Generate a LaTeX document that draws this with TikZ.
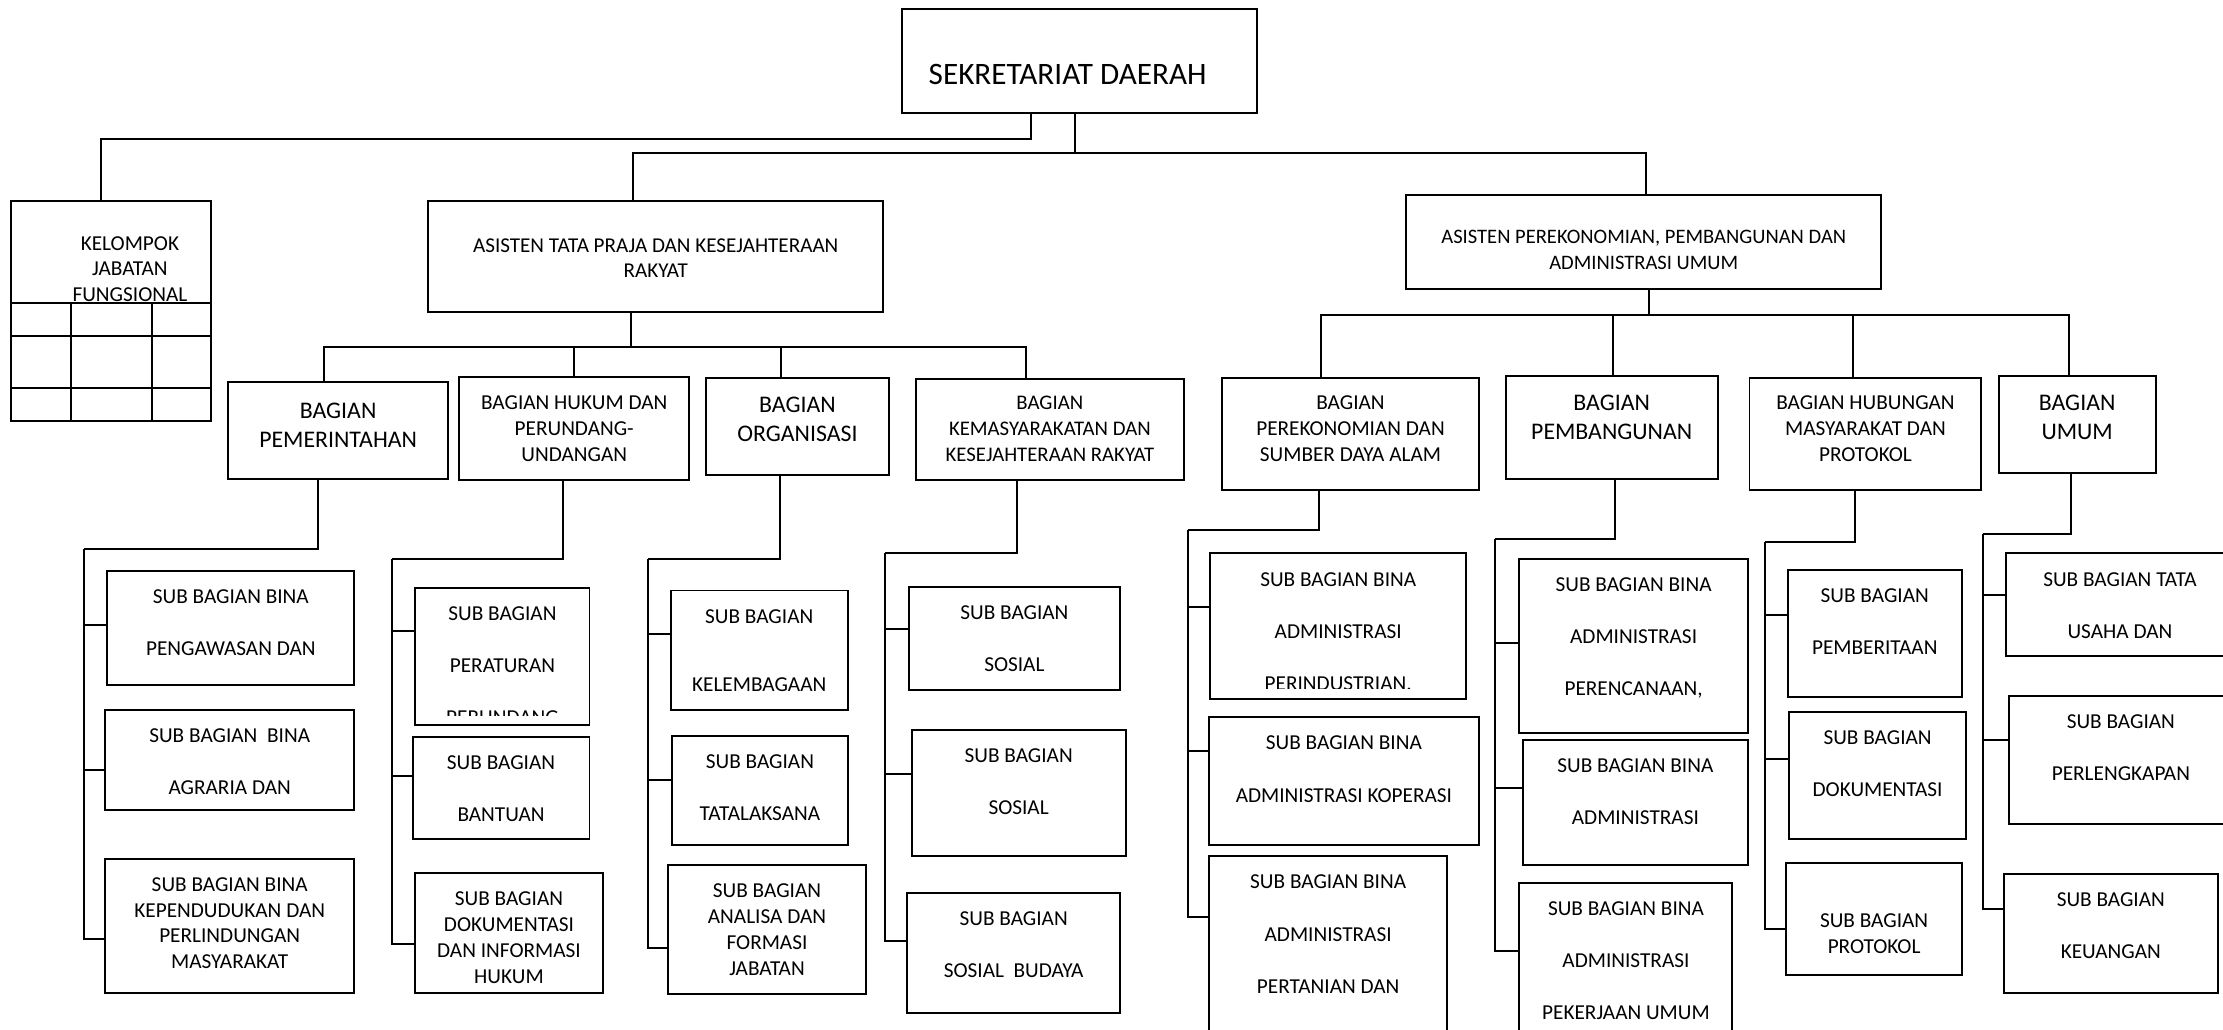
\documentclass[tikz,border=0pt]{standalone}
\usepackage{fontspec}
\setmainfont{Carlito}
\usetikzlibrary{positioning}
\tikzset{
  box/.style={draw, inner sep=0pt, outer sep=0pt},
  txt/.style={inner sep=0pt, align=center, font=\fontsize{15}{18.3}\selectfont},
  bigtxt/.style={txt, font=\fontsize{16.8}{20.5}\selectfont}
}
\begin{document}
\begin{tikzpicture}[x=1pt, y=-1pt, line width=1.4pt]
\useasboundingbox (0,0) rectangle (1568,726);
\clip (0,0) rectangle (1568,726);

% top
\node[box, minimum width=250.9pt, minimum height=73pt] (sekda) at (761.45,43.1) {};
\node[txt, font=\fontsize{22}{26}\selectfont, below=38pt of sekda.north, xshift=-8.4pt] (lsekda) {SEKRETARIAT DAERAH};
\node[box, minimum width=141.5pt, minimum height=155.5pt] (kjf) at (78.25,219.25) {};
\node[txt, font=\fontsize{15}{18}\selectfont, below=24.7pt of kjf.north, xshift=13.4pt] (lkjf) {KELOMPOK\\JABATAN\\FUNGSIONAL};
\draw (7.5,213.5) -- (149,213.5);
\draw (7.5,237) -- (149,237);
\draw (7.5,273.7) -- (149,273.7);
\draw (50.3,213.5) -- (50.3,297);
\draw (107,213.5) -- (107,297);
\node[box, minimum width=321pt, minimum height=78pt] (astp) at (462.5,181) {};
\node[txt, font=\fontsize{14.9}{17.8}\selectfont, below=25.5pt of astp.north] (lastp) {ASISTEN TATA PRAJA DAN KESEJAHTERAAN\\RAKYAT};
\node[box, minimum width=335pt, minimum height=66.6pt] (aspe) at (1159.4,170.7) {};
\node[txt, font=\fontsize{14.5}{18.3}\selectfont, below=24.4pt of aspe.north] (laspe) {ASISTEN PEREKONOMIAN, PEMBANGUNAN DAN\\ADMINISTRASI UMUM};

\draw ([xshift=-33.95pt]sekda.south) -- ++(0,18.2) -| ([xshift=-6.75pt]kjf.north);
\draw ([xshift=-3.4pt]sekda.south) -- ++(0,28) coordinate (bus0);
\draw ([xshift=-16pt]astp.north) |- (bus0) -| ([xshift=1.6pt]aspe.north);

% bagian
\node[box, minimum width=155pt, minimum height=68.5pt] (bpem) at (238.5,303.75) {};
\node[bigtxt, below=14.1pt of bpem.north] (lbpem) {BAGIAN\\PEMERINTAHAN};
\node[box, minimum width=162pt, minimum height=72.5pt] (bhuk) at (405,302.25) {};
\node[txt, below=12.2pt of bhuk.north] (lbhuk) {BAGIAN HUKUM DAN\\PERUNDANG-\\UNDANGAN};
\node[box, minimum width=129pt, minimum height=68.1pt] (borg) at (562.5,300.65) {};
\node[bigtxt, below=12.6pt of borg.north] (lborg) {BAGIAN\\ORGANISASI};
\node[box, minimum width=189pt, minimum height=71.1pt] (bkes) at (740.5,303.05) {};
\node[txt, font=\fontsize{14.65}{18.4}\selectfont, below=11.3pt of bkes.north] (lbkes) {BAGIAN\\KEMASYARAKATAN DAN\\KESEJAHTERAAN RAKYAT};
\node[box, minimum width=181.5pt, minimum height=79.2pt] (bekon) at (952.55,306.2) {};
\node[txt, below=11.6pt of bekon.north] (lbekon) {BAGIAN\\PEREKONOMIAN DAN\\SUMBER DAYA ALAM};
\node[box, minimum width=149.6pt, minimum height=72.3pt] (bpemb) at (1136.8,301.55) {};
\node[bigtxt, below=12.2pt of bpemb.north] (lbpemb) {BAGIAN\\PEMBANGUNAN};
\node[box, minimum width=163.6pt, minimum height=79.2pt] (bhumas) at (1315.8,306.2) {};
\node[txt, below=11.6pt of bhumas.north] (lbhumas) {BAGIAN HUBUNGAN\\MASYARAKAT DAN\\PROTOKOL};
\node[box, minimum width=110.6pt, minimum height=68.4pt] (bumum) at (1465.1,299.6) {};
\node[bigtxt, below=12.2pt of bumum.north] (lbumum) {BAGIAN\\UMUM};

\draw ([xshift=-17.5pt]astp.south) -- ++(0,24.5) coordinate (bus1);
\draw ([xshift=-10pt]bpem.north) |- (bus1) -| ([xshift=-17pt]bkes.north);
\draw (bhuk.north) -- (bhuk.north |- bus1);
\draw ([xshift=-11.5pt]borg.north) -- ++(0,-22.1);
\draw ([xshift=3.6pt]aspe.south) -- ++(0,18.5) coordinate (bus2);
\draw ([xshift=-20.5pt]bekon.north) |- (bus2) -| ([xshift=-5.7pt]bumum.north);
\draw ([xshift=1.2pt]bpemb.north) -- ++(0,-42.9);
\draw ([xshift=-8.8pt]bhumas.north) -- ++(0,-44.1);

% sub bagian
\node[box, minimum width=174.4pt, minimum height=80.7pt] (s11) at (162.8,443.05) {};
\node[txt, below=12.5pt of s11.north] (ls11) {SUB BAGIAN BINA\\[18.5pt]PENGAWASAN DAN};
\node[box, minimum width=176pt, minimum height=70.2pt] (s12) at (162,535.9) {};
\node[txt, below=12.5pt of s12.north] (ls12) {SUB BAGIAN~~BINA\\[18.5pt]AGRARIA DAN};
\node[box, minimum width=176pt, minimum height=95.1pt] (s13) at (162,653.15) {};
\node[txt, below=12.5pt of s13.north] (ls13) {SUB BAGIAN BINA\\KEPENDUDUKAN DAN\\PERLINDUNGAN\\MASYARAKAT};

\node[box, minimum width=122.8pt, minimum height=97pt] (s21) at (354.4,462.9) {};
\begin{scope}
\clip (s21.north west) rectangle ([yshift=7pt]s21.south east);
\node[txt, below=12.5pt of s21.north] (ls21) {SUB BAGIAN\\[18.5pt]PERATURAN\\[18.5pt]PERUNDANG};
\end{scope}
\node[box, minimum width=124.8pt, minimum height=72.2pt] (s22) at (353.4,555.6) {};
\node[txt, below=12.5pt of s22.north] (ls22) {SUB BAGIAN\\[18.5pt]BANTUAN};
\node[box, minimum width=132pt, minimum height=84.7pt] (s23) at (359,658.35) {};
\node[txt, below=12.5pt of s23.north] (ls23) {SUB BAGIAN\\DOKUMENTASI\\DAN INFORMASI\\HUKUM};

\node[box, minimum width=125pt, minimum height=84.3pt] (s31) at (535.5,458.65) {};
\node[txt, below=12.5pt of s31.north] (ls31) {SUB BAGIAN\\[29.7pt]KELEMBAGAAN};
\node[box, minimum width=124pt, minimum height=77pt] (s32) at (536,557.5) {};
\node[txt, below=12.5pt of s32.north] (ls32) {SUB BAGIAN\\[18.5pt]TATALAKSANA};
\node[box, minimum width=140pt, minimum height=91pt] (s33) at (541,655.5) {};
\node[txt, below=12.5pt of s33.north] (ls33) {SUB BAGIAN\\ANALISA DAN\\FORMASI\\JABATAN};

\node[box, minimum width=149pt, minimum height=73pt] (s41) at (715.5,450.5) {};
\node[txt, below=12.5pt of s41.north] (ls41) {SUB BAGIAN\\[18.5pt]SOSIAL};
\node[box, minimum width=151pt, minimum height=89.3pt] (s42) at (718.5,559.35) {};
\node[txt, below=12.5pt of s42.north] (ls42) {SUB BAGIAN\\[18.5pt]SOSIAL};
\node[box, minimum width=150pt, minimum height=84.5pt] (s43) at (715,672.25) {};
\node[txt, below=12.5pt of s43.north] (ls43) {SUB BAGIAN\\[18.5pt]SOSIAL~~BUDAYA};

\node[box, minimum width=180.2pt, minimum height=102.3pt] (s51) at (943.9,441.55) {};
\begin{scope}
\clip (s51.north west) rectangle ([yshift=7.4pt]s51.south east);
\node[txt, below=12.5pt of s51.north] (ls51) {SUB BAGIAN BINA\\[18.5pt]ADMINISTRASI\\[18.5pt]PERINDUSTRIAN.};
\end{scope}
\node[box, minimum width=190.8pt, minimum height=90pt] (s52) at (947.9,551) {};
\node[txt, below=12.5pt of s52.north] (ls52) {SUB BAGIAN BINA\\[18.5pt]ADMINISTRASI KOPERASI};
\node[box, minimum width=167.6pt, minimum height=156pt] (s53) at (936.8,682) {};
\node[txt, below=12.5pt of s53.north] (ls53) {SUB BAGIAN BINA\\[18.5pt]ADMINISTRASI\\[18.5pt]PERTANIAN DAN};

\node[box, minimum width=161.5pt, minimum height=122.5pt] (s61) at (1152.25,455.55) {};
\node[txt, below=12.5pt of s61.north] (ls61) {SUB BAGIAN BINA\\[18.5pt]ADMINISTRASI\\[18.5pt]PERENCANAAN,};
\node[box, minimum width=159pt, minimum height=88pt] (s62) at (1153.5,566) {};
\node[txt, below=12.5pt of s62.north] (ls62) {SUB BAGIAN BINA\\[18.5pt]ADMINISTRASI};
\node[box, minimum width=150.3pt, minimum height=137.5pt] (s63) at (1146.85,691.25) {};
\node[txt, below=12.5pt of s63.north] (ls63) {SUB BAGIAN BINA\\[18.5pt]ADMINISTRASI\\[18.5pt]PEKERJAAN UMUM};

\node[box, minimum width=122.7pt, minimum height=89.5pt] (s71) at (1322.35,446.75) {};
\node[txt, below=12.5pt of s71.north] (ls71) {SUB BAGIAN\\[18.5pt]PEMBERITAAN};
\node[box, minimum width=124.7pt, minimum height=89.4pt] (s72) at (1324.35,547) {};
\node[txt, below=12.5pt of s72.north] (ls72) {SUB BAGIAN\\[18.5pt]DOKUMENTASI};
\node[box, minimum width=124.4pt, minimum height=78.5pt] (s73) at (1321.9,648.25) {};
\node[txt, below=34.5pt of s73.north] (ls73) {SUB BAGIAN\\PROTOKOL};

\node[box, minimum width=160.2pt, minimum height=72.6pt] (s81) at (1495.3,426.7) {};
\node[txt, below=12.5pt of s81.north] (ls81) {SUB BAGIAN TATA\\[18.5pt]USAHA DAN};
\node[box, minimum width=158.1pt, minimum height=90.4pt] (s82) at (1495.95,535.8) {};
\node[txt, below=12.5pt of s82.north] (ls82) {SUB BAGIAN\\[18.5pt]PERLENGKAPAN};
\node[box, minimum width=151.1pt, minimum height=84.3pt] (s83) at (1488.85,658.55) {};
\node[txt, below=12.5pt of s83.north] (ls83) {SUB BAGIAN\\[18.5pt]KEUANGAN};

% spines
\coordinate (sp1) at (59.5,387.4);
\coordinate (sp2) at (276.5,394);
\coordinate (sp3) at (457,394.3);
\coordinate (sp4) at (624.5,390.4);
\coordinate (sp5) at (838,374);
\coordinate (sp6) at (1054.6,380.4);
\coordinate (sp7) at (1244.7,382);
\coordinate (sp8) at (1398.7,376.8);

\draw ([xshift=-14.5pt]bpem.south) |- (sp1);
\draw (s11.north west) ++(0,37.9) -| (sp1);
\draw (s12.north west) ++(0,42.2) -| (sp1);
\draw (s13.north west) ++(0,56.4) -| (sp1);

\draw ([xshift=-7.6pt]bhuk.south) |- (sp2);
\draw (s21.north west) ++(0,31) -| (sp2);
\draw (s22.north west) ++(0,28) -| (sp2);
\draw (s23.north west) ++(0,50) -| (sp2);

\draw ([xshift=-12.5pt]borg.south) |- (sp3);
\draw (s31.north west) ++(0,31) -| (sp3);
\draw (s32.north west) ++(0,31) -| (sp3);
\draw (s33.north west) ++(0,58.5) -| (sp3);

\draw ([xshift=-23pt]bkes.south) |- (sp4);
\draw (s41.north west) ++(0,30) -| (sp4);
\draw (s42.north west) ++(0,31) -| (sp4);
\draw (s43.north west) ++(0,34) -| (sp4);

\draw ([xshift=-22pt]bekon.south) |- (sp5);
\draw (s51.north west) ++(0,37.6) -| (sp5);
\draw (s52.north west) ++(0,23.7) -| (sp5);
\draw (s53.north west) ++(0,43) -| (sp5);

\draw ([xshift=2.5pt]bpemb.south) |- (sp6);
\draw (s61.north west) ++(0,59.3) -| (sp6);
\draw (s62.north west) ++(0,34) -| (sp6);
\draw (s63.north west) ++(0,48.5) -| (sp6);

\draw ([xshift=-7.7pt]bhumas.south) |- (sp7);
\draw (s71.north west) ++(0,32) -| (sp7);
\draw (s72.north west) ++(0,33.4) -| (sp7);
\draw (s73.north west) ++(0,46) -| (sp7);

\draw ([xshift=-4pt]bumum.south) |- (sp8);
\draw (s81.north west) ++(0,29.6) -| (sp8);
\draw (s82.north west) ++(0,31.6) -| (sp8);
\draw (s83.north west) ++(0,25) -| (sp8);
\end{tikzpicture}
\end{document}
